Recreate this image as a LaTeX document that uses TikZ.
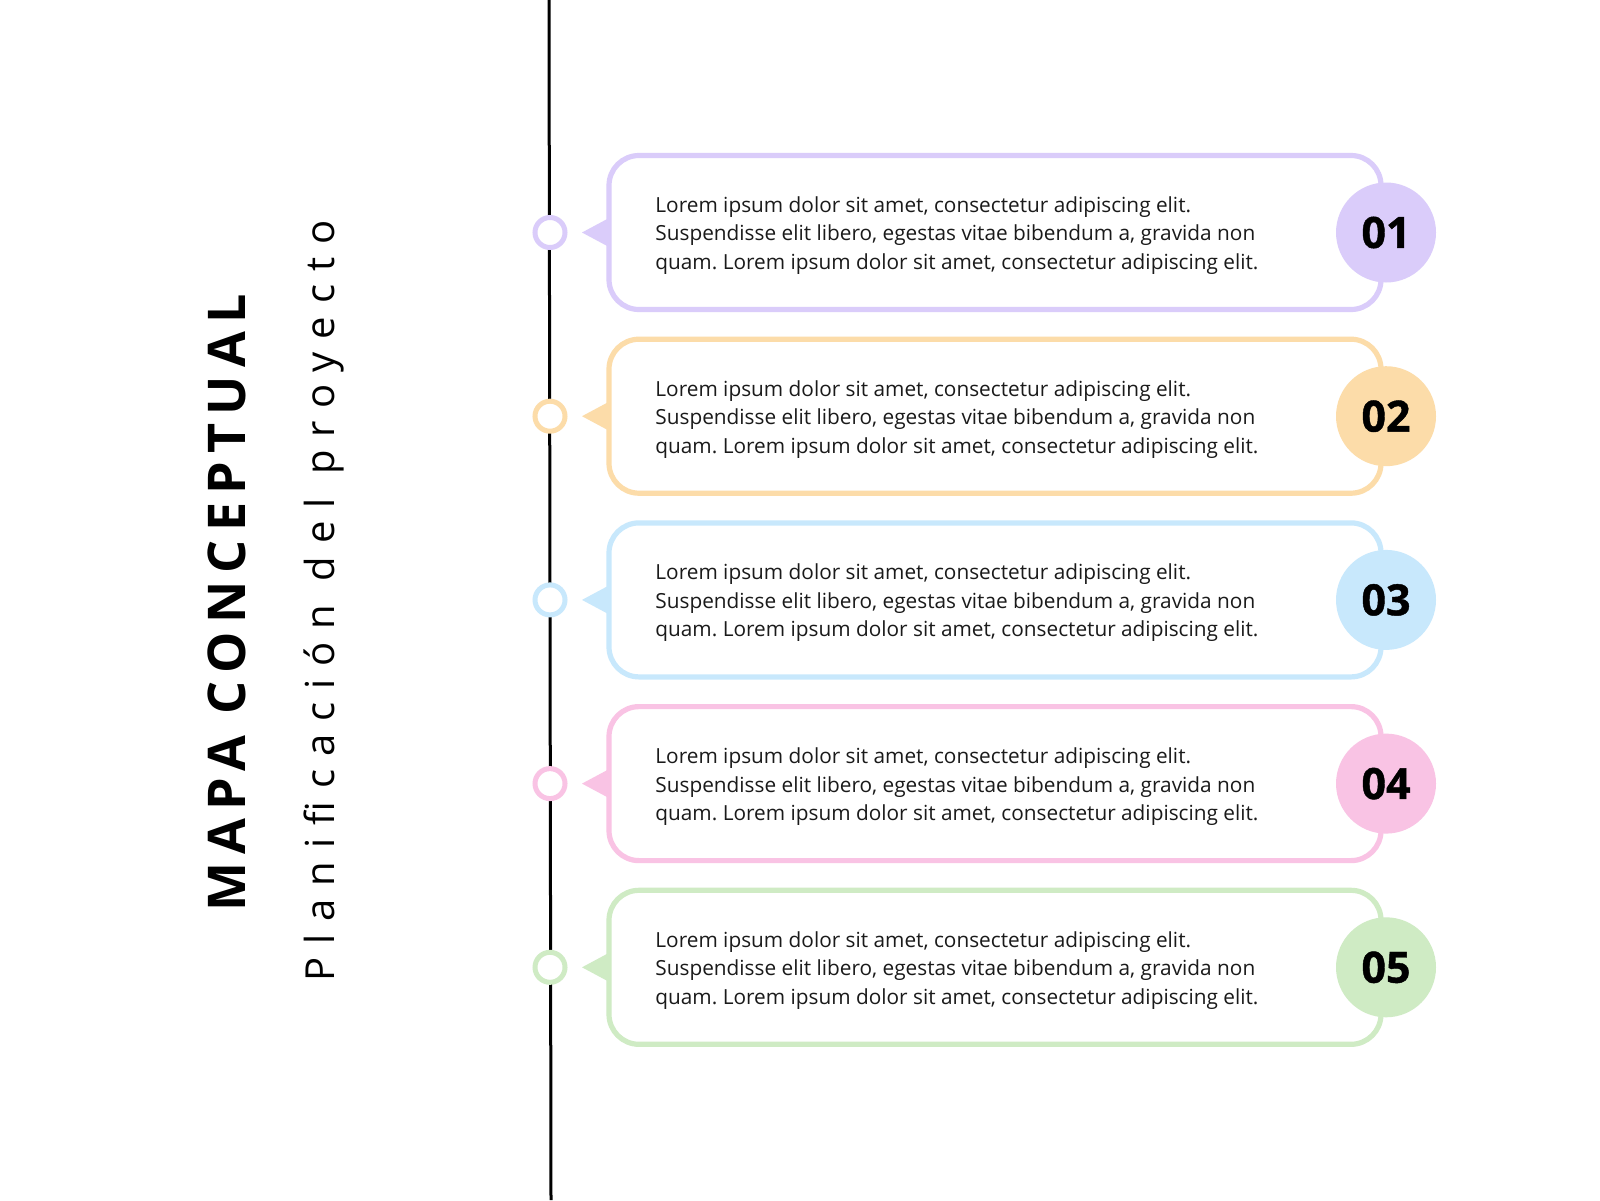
\documentclass[tikz,border=0pt]{standalone}
\usepackage{fontspec}
\setmainfont{Open Sans}
\newfontfamily\titlefont[LetterSpace=16]{Open Sans}
\newfontfamily\subfont[LetterSpace=32.5]{Open Sans}
\newfontfamily\numfont[BoldFeatures={FakeBold=1}]{Open Sans}
\definecolor{cA}{HTML}{DACCFA}
\definecolor{cB}{HTML}{FCDCA9}
\definecolor{cC}{HTML}{C8E8FC}
\definecolor{cD}{HTML}{F9C3E4}
\definecolor{cE}{HTML}{CFEBC4}
\definecolor{ink}{HTML}{1A1A1A}
\frenchspacing
\begin{document}
\begin{tikzpicture}[x=0.5pt,y=-0.5pt,
  cardbox/.style={draw=#1, line width=2.6pt, rounded corners=15pt, fill=white,
    minimum width=386pt, minimum height=77pt, inner sep=0pt},
  numdisc/.style={circle, fill=#1, minimum size=50pt, inner sep=0pt,
    font=\numfont\fontsize{21.5}{24}\selectfont\bfseries, text=black},
  dotmark/.style={circle, draw=#1, line width=2.5pt, fill=white, minimum size=15pt, inner sep=0pt},
  bodytext/.style={anchor=west, align=left, font=\fontsize{10.4}{14.3}\selectfont, text=ink, inner sep=0pt},
]
\useasboundingbox (0,0) rectangle (1600,1200);
\fill[white] (0,0) rectangle (1600,1200);
\coordinate (ltop) at (549,0);
\coordinate (lbot) at (551,1200);
\draw[line width=1.5pt, black] (ltop) -- (lbot);

\node[rotate=90, anchor=base, font=\titlefont\bfseries\fontsize{26}{30}\selectfont] (title) at (245,603) {MAPA CONCEPTUAL};
\node[rotate=90, anchor=base, font=\subfont\fontsize{20}{24}\selectfont] (subtitle) at (334,601) {Planificación del proyecto};

\foreach \i/\c/\n in {0/cA/01,1/cB/02,2/cC/03,3/cD/04,4/cE/05}{
  \pgfmathsetmacro{\yy}{232.5+183.7*\i}
  \node[cardbox=\c] (box\n) at (995,\yy) {};
  \node[numdisc=\c] (num\n) at (1386,\yy) {\n};
  \node[dotmark=\c] (dot\n) at (550,\yy) {};
  \fill[\c] (582,\yy) -- (610,\yy-15) -- (610,\yy+15) -- cycle;
  \node[bodytext] (txt\n) at (655,\yy+3) {Lorem ipsum dolor sit amet, consectetur adipiscing elit.\\Suspendisse elit libero, egestas vitae bibendum a, gravida non\\quam. Lorem ipsum dolor sit amet, consectetur adipiscing elit.};
}
\end{tikzpicture}
\end{document}
